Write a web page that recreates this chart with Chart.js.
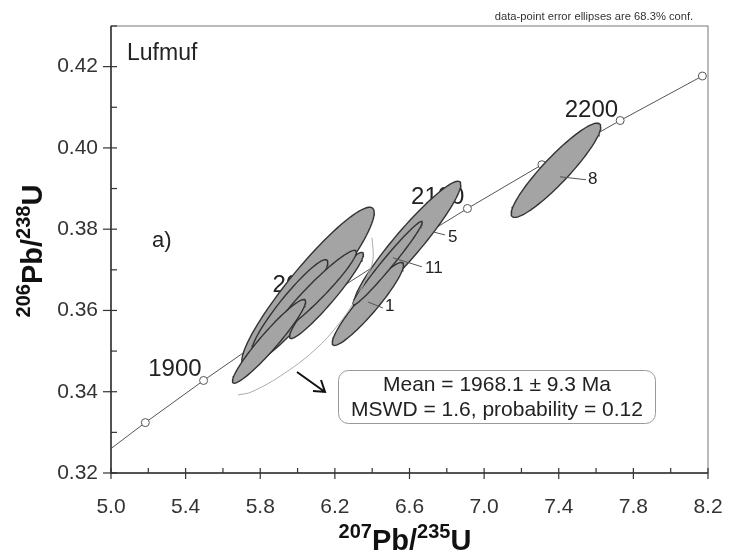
<!DOCTYPE html>
<html>
<head>
<meta charset="utf-8">
<script src="https://cdn.jsdelivr.net/npm/chart.js"></script>
<style>
  html, body { margin: 0; padding: 0; background: #fff; }
</style>
</head>
<body>
<canvas id="chart" width="730" height="556"></canvas>
<script>
// concordia curve, ages in Ma
const concordiaAges = [1800, 1850, 1900, 1950, 2000, 2050, 2100, 2150, 2200, 2250];
const concordiaX = [4.8869, 5.1840, 5.4962, 5.8241, 6.1685, 6.5304, 6.9105, 7.3097, 7.7292, 8.1699];
const concordiaY = [0.32210, 0.33240, 0.34277, 0.35323, 0.36377, 0.37438, 0.38509, 0.39587, 0.40674, 0.41769];
const ageLabels = [1900, 2000, 2100, 2200];

// analyses: centre, 1 sigma errors, error correlation
const spotLabels = ['', '', '', '', '', '5', '1', '11', '8'];
const spotX   = [6.056, 5.959, 6.155, 6.096, 5.847, 6.589, 6.377, 6.482, 7.385];
const spotY   = [0.3658, 0.3611, 0.3637, 0.3646, 0.3524, 0.3765, 0.3616, 0.3716, 0.3945];
const spotSx  = [0.355, 0.203, 0.198, 0.219, 0.196, 0.286, 0.191, 0.186, 0.240];
const spotSy  = [0.0196, 0.0114, 0.0106, 0.0102, 0.0103, 0.0153, 0.0102, 0.0103, 0.0116];
const spotRho = [0.930, 0.940, 0.955, 0.955, 0.950, 0.945, 0.935, 0.980, 0.920];

// thin envelope line
const envX = [6.399, 6.404, 6.372, 6.318, 6.238, 6.109, 5.932, 5.756, 5.681];
const envY = [0.3779, 0.3725, 0.3683, 0.3633, 0.3577, 0.3510, 0.3446, 0.3400, 0.3392];

const resultLines = ['Mean = 1968.1 \u00b1 9.3 Ma', 'MSWD = 1.6, probability = 0.12'];

const FONT = '"Liberation Sans", Arial, sans-serif';

function ellipsePoints(i) {
  const pts = [];
  const k = Math.sqrt(1 - spotRho[i] * spotRho[i]);
  for (let n = 0; n <= 90; n++) {
    const t = n / 90 * 2 * Math.PI;
    pts.push({
      x: spotX[i] + spotSx[i] * Math.cos(t),
      y: spotY[i] + spotSy[i] * (spotRho[i] * Math.cos(t) + k * Math.sin(t))
    });
  }
  return pts;
}

const datasets = [];
datasets.push({
  data: concordiaX.map((v, i) => ({x: v, y: concordiaY[i]})),
  showLine: true,
  borderColor: '#555',
  borderWidth: 1,
  pointRadius: concordiaAges.map(a => a < 1850 ? 0 : 4),
  pointBackgroundColor: '#fff',
  pointBorderColor: '#555',
  pointBorderWidth: 1,
  order: 100
});
spotX.forEach((v, i) => {
  datasets.push({
    data: ellipsePoints(i),
    showLine: true,
    fill: 'shape',
    backgroundColor: '#a4a4a4',
    borderColor: '#333',
    borderWidth: 1.4,
    pointRadius: 0,
    tension: 0,
    order: 50 - i
  });
});
datasets.push({
  data: envX.map((v, i) => ({x: v, y: envY[i]})),
  showLine: true,
  borderColor: '#aaa',
  borderWidth: 1,
  pointRadius: 0,
  tension: 0.4,
  order: 1
});

function drawRich(ctx, parts, cx, base) {
  const big = 'bold 29px ' + FONT, small = 'bold 20px ' + FONT;
  let w = 0;
  parts.forEach(p => { ctx.font = p.sup ? small : big; w += ctx.measureText(p.t).width; });
  let x0 = cx - w / 2;
  ctx.textAlign = 'left';
  ctx.textBaseline = 'alphabetic';
  parts.forEach(p => {
    ctx.font = p.sup ? small : big;
    ctx.fillText(p.t, x0, p.sup ? base - 12 : base);
    x0 += ctx.measureText(p.t).width;
  });
}

const decor = {
  id: 'decor',
  beforeDatasetsDraw(chart) {
    const {ctx, scales: {x, y}} = chart;
    const offs = {1900: [-2, -4], 2000: [-3, -3], 2100: [-3, -4], 2200: [-2, -4]};
    ctx.save();
    ctx.font = '24px ' + FONT;
    ctx.fillStyle = '#222';
    ctx.textAlign = 'right';
    ctx.textBaseline = 'alphabetic';
    ageLabels.forEach(age => {
      const i = concordiaAges.indexOf(age);
      ctx.fillText(String(age), x.getPixelForValue(concordiaX[i]) + offs[age][0],
        y.getPixelForValue(concordiaY[i]) + offs[age][1]);
    });
    ctx.restore();
  },
  afterDatasetsDraw(chart) {
    const {ctx, chartArea: a, scales: {x, y}} = chart;
    ctx.save();

    // spot numbers with leaders
    const lead = {
      '8':  [4, 6.5, 30, 9.5, 32, 9.5],
      '5':  [25.5, -11.5, 37.5, -8.5, 40.5, -6.5],
      '11': [5.5, -5.5, 34.5, 3.5, 37.5, 5],
      '1':  [0, -2, 15, 4, 17, 2]
    };
    ctx.font = '17px ' + FONT;
    ctx.textAlign = 'left';
    ctx.textBaseline = 'middle';
    ctx.strokeStyle = '#555';
    ctx.lineWidth = 1;
    ctx.fillStyle = '#222';
    spotLabels.forEach((lab, i) => {
      if (!lab) return;
      const cx = x.getPixelForValue(spotX[i]), cy = y.getPixelForValue(spotY[i]);
      const o = lead[lab];
      ctx.beginPath();
      ctx.moveTo(cx + o[0], cy + o[1]);
      ctx.lineTo(cx + o[2], cy + o[3]);
      ctx.stroke();
      ctx.fillText(lab, cx + o[4], cy + o[5]);
    });

    // frame
    ctx.strokeStyle = '#777';
    ctx.lineWidth = 1;
    ctx.strokeRect(a.left, a.top, a.right - a.left, a.bottom - a.top);
    ctx.strokeStyle = '#333';
    ctx.lineWidth = 1.5;
    ctx.beginPath();
    ctx.moveTo(a.left, a.top);
    ctx.lineTo(a.left, a.bottom);
    ctx.lineTo(a.right, a.bottom);
    ctx.stroke();

    // tick marks
    ctx.lineWidth = 1.2;
    x.ticks.forEach(t => {
      const px = x.getPixelForValue(t.value);
      const major = t.label !== '';
      ctx.beginPath();
      ctx.moveTo(px, a.bottom - 5);
      ctx.lineTo(px, major ? a.bottom + 6 : a.bottom);
      ctx.stroke();
    });
    y.ticks.forEach(t => {
      const py = y.getPixelForValue(t.value);
      const major = t.label !== '';
      ctx.beginPath();
      ctx.moveTo(major ? a.left - 8 : a.left, py);
      ctx.lineTo(a.left + 6, py);
      ctx.stroke();
    });

    // arrow
    ctx.strokeStyle = '#111';
    ctx.lineWidth = 2;
    ctx.beginPath();
    ctx.moveTo(297, 372);
    ctx.lineTo(325, 392);
    ctx.moveTo(313, 391);
    ctx.lineTo(325, 392);
    ctx.lineTo(321, 380);
    ctx.stroke();

    // result box
    ctx.strokeStyle = '#999';
    ctx.lineWidth = 1;
    ctx.beginPath();
    ctx.roundRect(338.5, 370.5, 317, 53, 10);
    ctx.stroke();
    ctx.font = '21px ' + FONT;
    ctx.fillStyle = '#222';
    ctx.textAlign = 'center';
    ctx.textBaseline = 'alphabetic';
    ctx.fillText(resultLines[0], 497, 391);
    ctx.fillText(resultLines[1], 497, 416);

    // corner texts
    ctx.textAlign = 'left';
    ctx.font = '23px ' + FONT;
    ctx.fillText('Lufmuf', 127, 60);
    ctx.font = '22px ' + FONT;
    ctx.fillText('a)', 152, 247);
    ctx.textAlign = 'center';
    ctx.font = '11.2px ' + FONT;
    ctx.fillStyle = '#333';
    ctx.fillText('data-point error ellipses are 68.3% conf.', 594, 20);

    // axis titles
    ctx.fillStyle = '#111';
    drawRich(ctx, [{t: '207', sup: true}, {t: 'Pb/'}, {t: '235', sup: true}, {t: 'U'}], 405, 550);
    ctx.translate(42, 251);
    ctx.rotate(-Math.PI / 2);
    drawRich(ctx, [{t: '206', sup: true}, {t: 'Pb/'}, {t: '238', sup: true}, {t: 'U'}], 0, 0);
    ctx.restore();
  }
};

const ctx = document.getElementById('chart');
const chart = new Chart(ctx, {
  type: 'scatter',
  data: { datasets: datasets },
  options: {
    responsive: false,
    animation: false,
    devicePixelRatio: 1,
    layout: { padding: { top: 26, right: 22, left: 0, bottom: 0 } },
    plugins: { legend: { display: false }, tooltip: { enabled: false } },
    scales: {
      x: {
        type: 'linear', min: 5.0, max: 8.2,
        grid: { display: false, drawTicks: false },
        border: { display: false },
        afterFit: s => { s.height = 83; s.paddingLeft = 0; s.paddingRight = 0; },
        ticks: {
          stepSize: 0.2, autoSkip: false, maxRotation: 0, padding: 22,
          color: '#333', font: { family: FONT, size: 21 },
          callback: v => Math.round((v - 5) * 10) % 4 === 0 ? v.toFixed(1) : ''
        }
      },
      y: {
        type: 'linear', min: 0.32, max: 0.43,
        grid: { display: false, drawTicks: false },
        border: { display: false },
        afterFit: s => { s.width = 111; s.paddingTop = 0; s.paddingBottom = 0; },
        ticks: {
          stepSize: 0.01, autoSkip: false, padding: 13,
          color: '#333', font: { family: FONT, size: 21 },
          callback: v => Math.round(v * 100) % 2 === 0 ? v.toFixed(2) : ''
        }
      }
    }
  },
  plugins: [decor]
});
</script>
</body>
</html>
